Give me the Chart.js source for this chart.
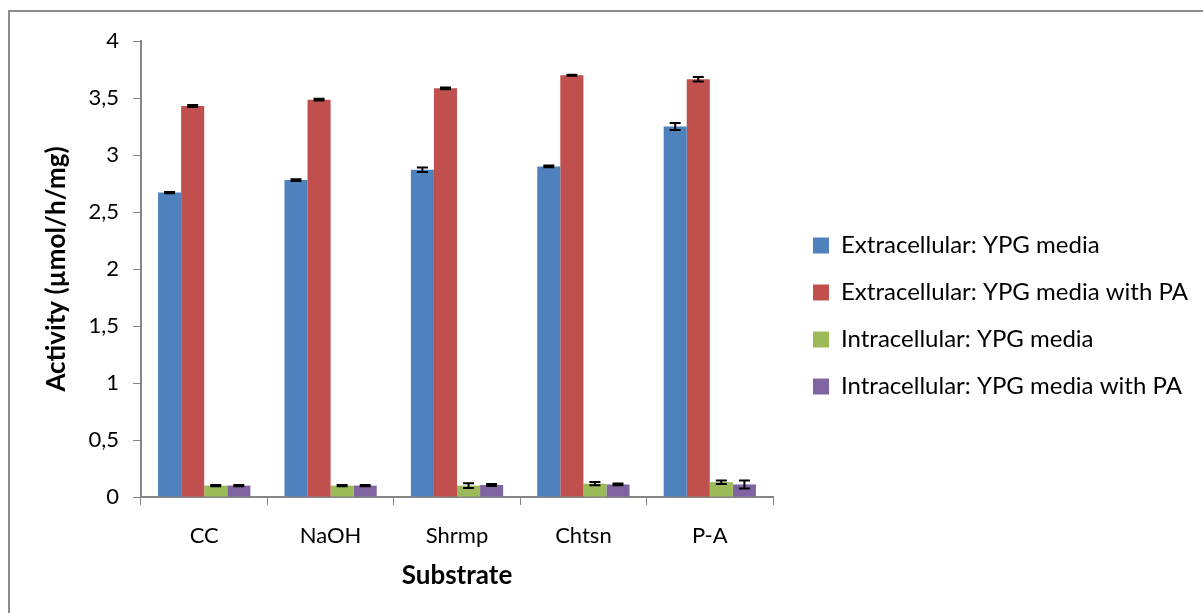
<!DOCTYPE html>
<html>
<head>
<meta charset="utf-8">
<script src="https://cdn.jsdelivr.net/npm/chart.js@4.4.0/dist/chart.umd.min.js"></script>
<style>
  html, body { margin: 0; padding: 0; background: #fff; }
  #wrap { width: 1203px; height: 613px; position: relative; }
</style>
</head>
<body>
<div id="wrap"><canvas id="activityChart"></canvas></div>
<script>
// categories and series
const substrates = ['CC', 'NaOH', 'Shrmp', 'Chtsn', 'P-A']
const seriesNames = [
  'Extracellular: YPG media',
  'Extracellular: YPG media with PA',
  'Intracellular: YPG media',
  'Intracellular: YPG media with PA'
]
const extraYPG = [2.67, 2.78, 2.87, 2.90, 3.25]
const extraYPGPA = [3.43, 3.485, 3.585, 3.70, 3.665]
const intraYPG = [0.10, 0.10, 0.10, 0.117, 0.13]
const intraYPGPA = [0.10, 0.10, 0.105, 0.11, 0.11]

// error bar half-lengths
const extraYPGErr = [0.005, 0.008, 0.02, 0.008, 0.03]
const extraYPGPAErr = [0.008, 0.008, 0.008, 0.004, 0.02]
const intraYPGErr = [0.005, 0.005, 0.02, 0.015, 0.015]
const intraYPGPAErr = [0.005, 0.005, 0.008, 0.008, 0.035]

const yTicks = [0, 0.5, 1, 1.5, 2, 2.5, 3, 3.5, 4]

const colors = ['#4F81BD', '#C0504D', '#9BBB59', '#8064A2']
const axisGray = '#868686'
const fontFamily = 'Lato, "Open Sans", sans-serif'

const values = [extraYPG, extraYPGPA, intraYPG, intraYPGPA]
const errors = [extraYPGErr, extraYPGPAErr, intraYPGErr, intraYPGPAErr]

//error bars drawn through the y scale
const errorBars = {
  id: 'errorBars',
  afterDatasetsDraw(chart) {
    const ctx = chart.ctx
    const y = chart.scales.y
    ctx.save()
    ctx.strokeStyle = '#000'
    ctx.lineWidth = 2
    chart.data.datasets.forEach((ds, i) => {
      const meta = chart.getDatasetMeta(i)
      meta.data.forEach((bar, j) => {
        const v = ds.data[j]
        const e = ds.errors[j]
        const top = y.getPixelForValue(v + e)
        const bot = y.getPixelForValue(v - e)
        const x = bar.x
        ctx.beginPath()
        ctx.moveTo(x, top); ctx.lineTo(x, bot)
        ctx.moveTo(x - 5.5, top); ctx.lineTo(x + 5.5, top)
        ctx.moveTo(x - 5.5, bot); ctx.lineTo(x + 5.5, bot)
        ctx.stroke()
      })
    })
    ctx.restore()
  }
}

//gray frame round the whole chart
const frame = {
  id: 'frame',
  beforeDraw(chart) {
    const ctx = chart.ctx
    ctx.save()
    ctx.fillStyle = '#fff'
    ctx.fillRect(0, 0, chart.width, chart.height)
    ctx.strokeStyle = '#8c8c8c'
    ctx.lineWidth = 2
    ctx.strokeRect(9, 11, chart.width + 20, chart.height + 20)
    ctx.restore()
  }
}

//nudge the legend block to where the reference has it
const legendNudge = {
  id: 'legendNudge',
  afterLayout(chart) {
    const lg = chart.legend
    lg.left += 17; lg.right += 17
    lg.top -= 6; lg.bottom -= 6
  }
}

const data = {
  labels: substrates,
  datasets: seriesNames.map((name, i) => ({
    label: name,
    data: values[i],
    errors: errors[i],
    backgroundColor: colors[i],
    borderWidth: 0,
    categoryPercentage: 0.73,
    barPercentage: 1.0
  }))
}

const config = {
  type: 'bar',
  data: data,
  plugins: [frame, errorBars, legendNudge],
  options: {
    responsive: true,
    maintainAspectRatio: false,
    animation: false,
    layout: {
      padding: { left: 8, top: 41, right: 30, bottom: 10 }
    },
    plugins: {
      tooltip: { enabled: false },
      legend: {
        position: 'right',
        align: 'center',
        maxWidth: 400,
        labels: {
          color: '#000',
          font: { family: fontFamily, size: 24 },
          boxWidth: 16,
          boxHeight: 16,
          padding: 23
        }
      }
    },
    scales: {
      x: {
        grid: {
          display: true,
          drawOnChartArea: false,
          drawTicks: true,
          tickLength: 8,
          color: axisGray,
          offset: true
        },
        border: { color: axisGray, width: 2 },
        ticks: {
          color: '#000',
          font: { family: fontFamily, size: 22 },
          padding: 18
        },
        title: {
          display: true,
          text: 'Substrate',
          color: '#000',
          font: { family: fontFamily, size: 26, weight: 'bold' },
          padding: { top: 8, bottom: 12 }
        },
        afterFit(scale) { scale.height = 106 }
      },
      y: {
        min: 0,
        max: 4,
        afterBuildTicks(scale) { scale.ticks = yTicks.map(v => ({ value: v })) },
        grid: {
          display: true,
          drawOnChartArea: false,
          drawTicks: true,
          tickLength: 8,
          color: axisGray
        },
        border: { color: axisGray, width: 2 },
        ticks: {
          color: '#000',
          font: { family: fontFamily, size: 22 },
          padding: 14,
          callback: v => String(v).replace('.', ',')
        },
        title: {
          display: true,
          text: 'Activity (µmol/h/mg)',
          color: '#000',
          font: { family: fontFamily, size: 26, weight: 'bold' },
          padding: { top: 33, bottom: 0 }
        },
        afterFit(scale) { scale.width = 133 }
      }
    }
  }
}

const activityChart = new Chart(document.getElementById('activityChart'), config)
</script>
</body>
</html>
